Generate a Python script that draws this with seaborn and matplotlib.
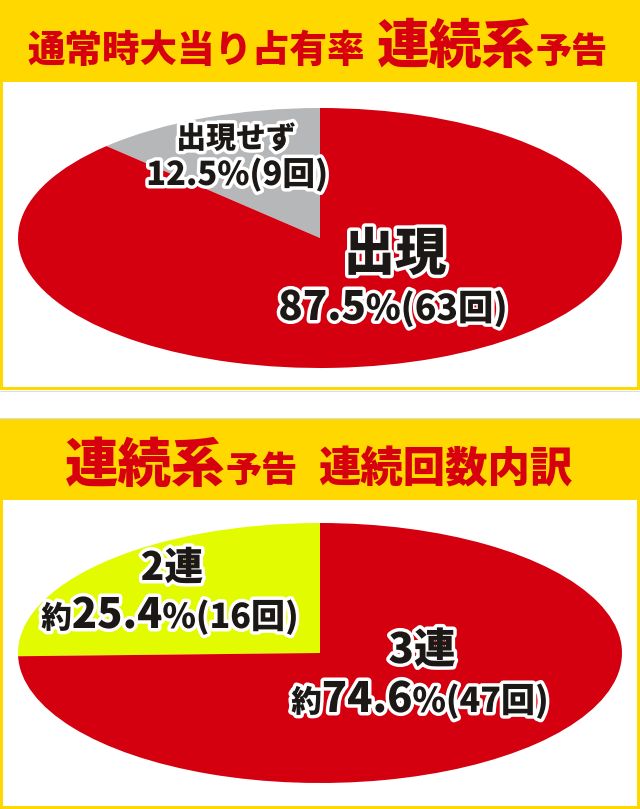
import matplotlib
matplotlib.use("Agg")
import matplotlib.pyplot as plt
import matplotlib.patheffects as pe
from matplotlib.patches import Rectangle
import seaborn as sns

# data
top_title_main = "通常時大当り占有率"
top_title_em = ["連続系", "予告"]
bottom_title_em = ["連続系", "予告"]
bottom_title_main = "連続回数内訳"

appear_labels = ["出現せず", "出現"]
appear_counts = [9, 63]

chain_labels = ["2連", "3連"]
chain_counts = [16, 47]

sns.set_theme(style="white")
plt.rcParams["font.family"] = ["Noto Sans CJK JP", "DejaVu Sans"]

YELLOW = "#FFD800"
RED = "#D5000F"
GREY = "#B6B7B9"
LIME = "#E2FB00"
INK = "#1c1816"
TITLE_RED = "#D6000F"

W, H = 640, 809
fig = plt.figure(figsize=(W / 100, H / 100), dpi=100)
fig.patch.set_facecolor("white")

def pixel_axes():
    a = fig.add_axes([0, 0, 1, 1])
    a.set_xlim(0, W)
    a.set_ylim(H, 0)
    a.axis("off")
    a.patch.set_alpha(0)
    return a

# background canvas in pixel units
bg = pixel_axes()

def rect(x, y, w, h, color):
    bg.add_patch(Rectangle((x, y), w, h, facecolor=color, edgecolor="none"))

# top panel
rect(0, 0, W, 82, YELLOW)
rect(0, 82, W, 308, YELLOW)
rect(3, 82, W - 6, 305, "white")
# bottom panel
rect(0, 418, W, 82, YELLOW)
rect(0, 500, W, 309, YELLOW)
rect(3, 500, W - 6, 306, "white")
bg.plot([0, W], [390.5, 390.5], color="#dddddd", lw=0.8)
bg.plot([0, W], [417.5, 417.5], color="#dddddd", lw=0.8)

renderer = fig.canvas.get_renderer()
outline = [pe.withStroke(linewidth=5, foreground="white")]

def draw_parts(ax, x, y_base, parts, color, ha="center", effects=None):
    """lay out text pieces of different sizes on a common baseline"""
    items = []
    for s, size in parts:
        t = ax.text(0, y_base, s, fontsize=size, fontweight="heavy", color=color,
                    ha="left", va="baseline", path_effects=effects)
        w = t.get_window_extent(renderer=renderer).width
        items.append((t, w))
    total = sum(w for _, w in items)
    cur = x - total / 2 if ha == "center" else x
    for t, w in items:
        t.set_x(cur)
        cur += w

# titles
draw_parts(bg, 27, 62, [(top_title_main, 27)], TITLE_RED, ha="left")
draw_parts(bg, 377, 63, [(top_title_em[0], 38), (top_title_em[1], 26)], TITLE_RED, ha="left")
draw_parts(bg, 65, 482, [(bottom_title_em[0], 38.5), (bottom_title_em[1], 26)], TITLE_RED, ha="left")
draw_parts(bg, 318, 482, [(bottom_title_main, 30.5)], TITLE_RED, ha="left")

# pies, stretched into ellipses
def ellipse_pie(cx, cy, rx, ry, counts, colors):
    pad = 1.02
    left = (cx - rx * pad) / W
    bottom = (H - (cy + ry * pad)) / H
    ax = fig.add_axes([left, bottom, 2 * rx * pad / W, 2 * ry * pad / H])
    ax.pie(counts, colors=colors, startangle=90, counterclock=True,
           wedgeprops=dict(linewidth=0))
    ax.set_xlim(-pad, pad)
    ax.set_ylim(-pad, pad)
    ax.set_aspect("auto")
    ax.patch.set_alpha(0)
    ax.axis("off")
    return ax

ellipse_pie(320, 238, 302, 130, appear_counts, [GREY, RED])
ellipse_pie(320, 653, 302, 130, chain_counts, [LIME, RED])

# overlay for the labels, above the pies
fg = pixel_axes()

tot_a = sum(appear_counts)
pct_a = [c / tot_a * 100 for c in appear_counts]
tot_c = sum(chain_counts)
pct_c = [c / tot_c * 100 for c in chain_counts]

# labels for top pie
draw_parts(fg, 236, 148, [(appear_labels[0], 21.5)], INK, effects=outline)
draw_parts(fg, 237, 185, [(f"{pct_a[0]:.1f}%({appear_counts[0]}回)", 23.5)], INK, effects=outline)
draw_parts(fg, 395, 270, [(appear_labels[1], 37)], INK, effects=outline)
draw_parts(fg, 393, 320, [(f"{pct_a[1]:.1f}", 29), (f"%({appear_counts[1]}回)", 25.5)],
           INK, effects=outline)

# labels for bottom pie
draw_parts(fg, 172, 580, [(chain_labels[0], 28)], INK, effects=outline)
draw_parts(fg, 170, 628, [("約", 22), (f"{pct_c[0]:.1f}", 30), (f"%({chain_counts[0]}回)", 24.5)],
           INK, effects=outline)
draw_parts(fg, 422, 663, [(chain_labels[1], 30)], INK, effects=outline)
draw_parts(fg, 420, 712, [("約", 22), (f"{pct_c[1]:.1f}", 30), (f"%({chain_counts[1]}回)", 24.5)],
           INK, effects=outline)

fig.savefig("out.png", dpi=100)
